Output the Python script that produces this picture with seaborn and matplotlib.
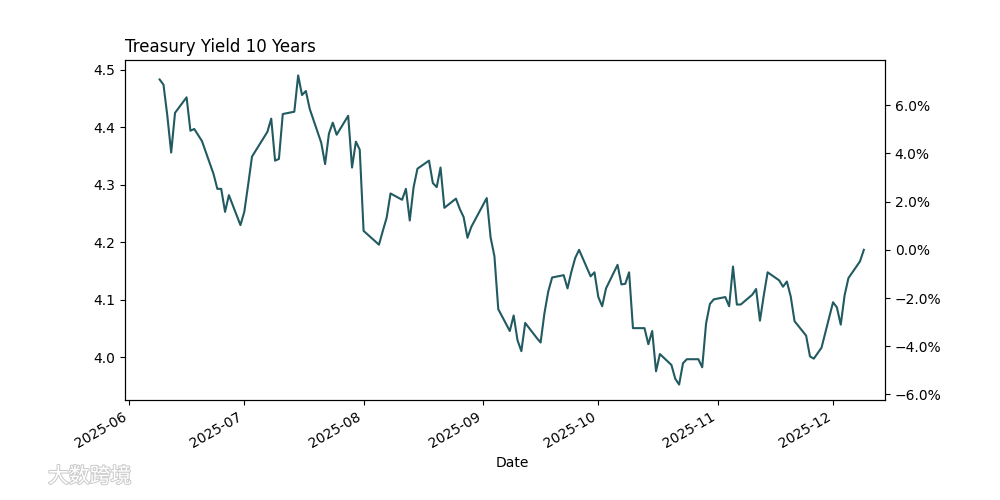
import matplotlib
matplotlib.use("Agg")
import matplotlib.pyplot as plt
import matplotlib.patheffects as pe
from matplotlib.ticker import PercentFormatter
import seaborn as sns
import pandas as pd

# 10 year treasury yield
dates = [
    "2025-06-09", "2025-06-10", "2025-06-11", "2025-06-12", "2025-06-13",
    "2025-06-16", "2025-06-17", "2025-06-18", "2025-06-20",
    "2025-06-23", "2025-06-24", "2025-06-25", "2025-06-26", "2025-06-27",
    "2025-06-30", "2025-07-01", "2025-07-02", "2025-07-03",
    "2025-07-07", "2025-07-08", "2025-07-09", "2025-07-10", "2025-07-11",
    "2025-07-14", "2025-07-15", "2025-07-16", "2025-07-17", "2025-07-18",
    "2025-07-21", "2025-07-22", "2025-07-23", "2025-07-24", "2025-07-25",
    "2025-07-28", "2025-07-29", "2025-07-30", "2025-07-31", "2025-08-01",
    "2025-08-04", "2025-08-05", "2025-08-06", "2025-08-07", "2025-08-08",
    "2025-08-11", "2025-08-12", "2025-08-13", "2025-08-14", "2025-08-15",
    "2025-08-18", "2025-08-19", "2025-08-20", "2025-08-21", "2025-08-22",
    "2025-08-25", "2025-08-26", "2025-08-27", "2025-08-28", "2025-08-29",
    "2025-09-02", "2025-09-03", "2025-09-04", "2025-09-05",
    "2025-09-08", "2025-09-09", "2025-09-10", "2025-09-11", "2025-09-12",
    "2025-09-15", "2025-09-16", "2025-09-17", "2025-09-18", "2025-09-19",
    "2025-09-22", "2025-09-23", "2025-09-24", "2025-09-25", "2025-09-26",
    "2025-09-29", "2025-09-30", "2025-10-01", "2025-10-02", "2025-10-03",
    "2025-10-06", "2025-10-07", "2025-10-08", "2025-10-09", "2025-10-10",
    "2025-10-13", "2025-10-14", "2025-10-15", "2025-10-16", "2025-10-17",
    "2025-10-20", "2025-10-21", "2025-10-22", "2025-10-23", "2025-10-24",
    "2025-10-27", "2025-10-28", "2025-10-29", "2025-10-30", "2025-10-31",
    "2025-11-03", "2025-11-04", "2025-11-05", "2025-11-06", "2025-11-07",
    "2025-11-10", "2025-11-11", "2025-11-12", "2025-11-13", "2025-11-14",
    "2025-11-17", "2025-11-18", "2025-11-19", "2025-11-20", "2025-11-21",
    "2025-11-24", "2025-11-25", "2025-11-26", "2025-11-28",
    "2025-12-01", "2025-12-02", "2025-12-03", "2025-12-04", "2025-12-05",
    "2025-12-08", "2025-12-09",
]
yields = [
    4.483, 4.474, 4.420, 4.356, 4.425,
    4.452, 4.394, 4.397, 4.376,
    4.319, 4.293, 4.293, 4.253, 4.282,
    4.230, 4.253, 4.300, 4.349,
    4.392, 4.415, 4.342, 4.345, 4.423,
    4.427, 4.490, 4.456, 4.463, 4.432,
    4.373, 4.336, 4.389, 4.408, 4.387,
    4.420, 4.330, 4.375, 4.361, 4.220,
    4.202, 4.196, 4.220, 4.243, 4.285,
    4.274, 4.293, 4.238, 4.296, 4.328,
    4.342, 4.303, 4.296, 4.330, 4.260,
    4.276, 4.258, 4.244, 4.208, 4.227,
    4.277, 4.209, 4.176, 4.084,
    4.046, 4.073, 4.030, 4.011, 4.060,
    4.034, 4.026, 4.077, 4.115, 4.139,
    4.143, 4.120, 4.149, 4.173, 4.187,
    4.141, 4.148, 4.105, 4.089, 4.120,
    4.161, 4.127, 4.128, 4.148, 4.051,
    4.051, 4.023, 4.046, 3.976, 4.006,
    3.987, 3.963, 3.953, 3.990, 3.997,
    3.997, 3.983, 4.059, 4.093, 4.101,
    4.105, 4.089, 4.158, 4.092, 4.092,
    4.109, 4.119, 4.064, 4.108, 4.148,
    4.134, 4.123, 4.132, 4.106, 4.063,
    4.038, 4.002, 3.998, 4.017,
    4.096, 4.087, 4.057, 4.108, 4.138,
    4.167, 4.187,
]

df = pd.DataFrame({"Date": pd.to_datetime(dates), "Yield": yields})
last = df["Yield"].iloc[-1]

fig, ax = plt.subplots(figsize=(10, 5), dpi=100)
fig.subplots_adjust(right=0.885)
sns.lineplot(data=df, x="Date", y="Yield", ax=ax, color="#215a60", linewidth=1.5)
ax.set_title("Treasury Yield 10 Years", loc="left")
ax.set_ylabel("")
ax.set_xlabel("Date", x=0.509)
ax.set_xlim(df["Date"].iloc[0] - pd.Timedelta(days=9),
            df["Date"].iloc[-1] + pd.Timedelta(days=5.5))

# right axis: change relative to the latest value
ax2 = ax.twinx()
lo, hi = ax.get_ylim()
ax2.set_ylim((lo / last - 1) * 100, (hi / last - 1) * 100)
ax2.yaxis.set_major_formatter(PercentFormatter(decimals=1))

fig.autofmt_xdate()

# faint watermark
fig.text(0.048, 0.035, "大数跨境", fontsize=15, color="white",
         family=["Noto Sans CJK SC", "DejaVu Sans"],
         path_effects=[pe.withStroke(linewidth=1.5, foreground="#cccccc")])

fig.savefig("out.png")
